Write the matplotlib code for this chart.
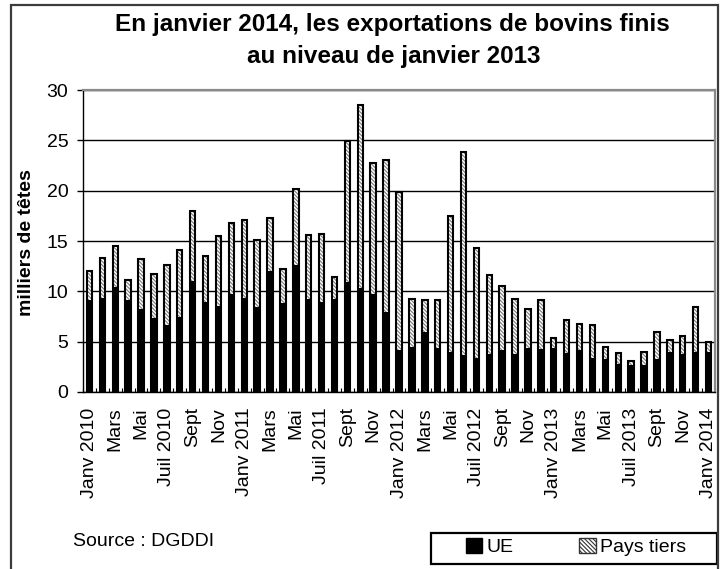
import matplotlib
matplotlib.use("Agg")
import matplotlib.pyplot as plt
import matplotlib.patches as mpatches
import numpy as np

plt.rcParams['font.family'] = ['Liberation Sans', 'DejaVu Sans']
plt.rcParams['hatch.linewidth'] = 0.8

# ── Data (milliers de têtes) ──────────────────────────────────────────────────
mois = ["Janv 2010", "Févr", "Mars", "Avr", "Mai", "Juin", "Juil 2010", "Août",
        "Sept", "Oct", "Nov", "Déc",
        "Janv 2011", "Févr", "Mars", "Avr", "Mai", "Juin", "Juil 2011", "Août",
        "Sept", "Oct", "Nov", "Déc",
        "Janv 2012", "Févr", "Mars", "Avr", "Mai", "Juin", "Juil 2012", "Août",
        "Sept", "Oct", "Nov", "Déc",
        "Janv 2013", "Févr", "Mars", "Avr", "Mai", "Juin", "Juil 2013", "Août",
        "Sept", "Oct", "Nov", "Déc",
        "Janv 2014"]

ue = [9.1, 9.3, 10.4, 9.1, 8.2, 7.4, 6.7, 7.5, 11.0, 8.9, 8.5, 9.7,
      9.3, 8.4, 12.0, 8.8, 12.6, 9.2, 8.9, 9.2, 10.9, 10.3, 9.7, 7.9,
      4.2, 4.5, 6.0, 4.4, 4.0, 3.7, 3.4, 3.8, 4.2, 3.8, 4.4, 4.3,
      4.4, 3.9, 4.2, 3.4, 3.3, 2.8, 2.7, 2.7, 3.3, 4.0, 3.8, 4.0,
      4.0]

pays_tiers = [2.9, 4.0, 4.1, 2.0, 5.0, 4.3, 5.9, 6.6, 7.0, 4.6, 7.0, 7.1,
              7.8, 6.7, 5.3, 3.4, 7.6, 6.4, 6.8, 2.2, 14.0, 18.2, 13.0, 15.1,
              15.7, 4.7, 3.1, 4.7, 13.5, 20.1, 10.9, 7.8, 6.3, 5.4, 3.8, 4.8,
              1.0, 3.3, 2.6, 3.3, 1.2, 1.1, 0.4, 1.3, 2.7, 1.2, 1.8, 4.4,
              1.0]

y_ticks = [0, 5, 10, 15, 20, 25, 30]

# ── Figure ────────────────────────────────────────────────────────────────────
W, H = 726, 569
fig = plt.figure(figsize=(W / 100, H / 100), dpi=100)
ax = fig.add_axes([83 / W, 1 - 392 / H, (715 - 83) / W, (392 - 90) / H])

x = np.arange(len(mois))
ue_a = np.array(ue)
pt_a = np.array(pays_tiers)
bw = 0.42

ax.bar(x, ue_a, width=bw, color="black", linewidth=0, zorder=3)
ax.bar(x, pt_a, bottom=ue_a, width=bw, color="white", edgecolor="#7a7a7a",
       linewidth=0, hatch="\\" * 9, zorder=3)
ax.bar(x, ue_a + pt_a, width=bw, fill=False, edgecolor="black",
       linewidth=1.5, zorder=4)

ax.set_xlim(-0.5, len(mois) - 0.5)
ax.set_ylim(0, 30)
ax.set_yticks(y_ticks)
ax.yaxis.grid(True, color="black", linewidth=1.0, zorder=0)
ax.set_axisbelow(True)

ax.set_xticks(x[::2])
ax.set_xticklabels(mois[::2], rotation=90, fontsize=14)
ax.set_xticks(np.arange(-0.5, len(mois), 1), minor=True)
ax.tick_params(axis="x", which="major", length=0, pad=11)
ax.tick_params(axis="x", which="minor", direction="in", length=3, width=0.8)
ax.tick_params(axis="y", direction="out", length=4.5, width=1, pad=6,
               labelsize=14)

for s in ("left", "bottom"):
    ax.spines[s].set_color("black")
    ax.spines[s].set_linewidth(1.0)
for s in ("top", "right"):
    ax.spines[s].set_color("#8a8a8a")
    ax.spines[s].set_linewidth(1.6)

# ── Texts ─────────────────────────────────────────────────────────────────────
fig.text(392 / W, 1 - 31 / H, "En janvier 2014, les exportations de bovins finis",
         ha="center", va="baseline", fontsize=17.5, fontweight="bold")
fig.text(394 / W, 1 - 63 / H, "au niveau de janvier 2013",
         ha="center", va="baseline", fontsize=17.5, fontweight="bold")
fig.text(27 / W, 1 - 243 / H, "milliers de têtes", rotation=90,
         ha="center", va="center", fontsize=14, fontweight="bold")
fig.text(73 / W, 1 - 546 / H, "Source : DGDDI", ha="left", va="baseline",
         fontsize=14)

# ── Legend ────────────────────────────────────────────────────────────────────
handles = [mpatches.Patch(facecolor="black", edgecolor="black", label="UE"),
           mpatches.Patch(facecolor="white", edgecolor="#333333",
                          hatch="\\" * 8, label="Pays tiers")]
fig.legend(handles=handles, loc="center left", ncol=2, frameon=False,
           bbox_to_anchor=(456 / W, 1 - 547 / H), borderpad=0,
           fontsize=14, handlelength=0.85, handleheight=0.85,
           handletextpad=0.2, columnspacing=3.4)
fig.add_artist(mpatches.Rectangle((431 / W, 1 - 564 / H), 286 / W, 31 / H,
                                  transform=fig.transFigure, fill=False,
                                  edgecolor="black", linewidth=1.6))

# outer frame (bottom edge runs off the image)
fig.add_artist(mpatches.Rectangle((11 / W, -0.05), 707 / W, 1 - 5 / H + 0.05,
                                  transform=fig.transFigure, fill=False,
                                  edgecolor="#3c3c3c", linewidth=1.6,
                                  clip_on=False))

fig.savefig("out.png", dpi=100, facecolor="white")
